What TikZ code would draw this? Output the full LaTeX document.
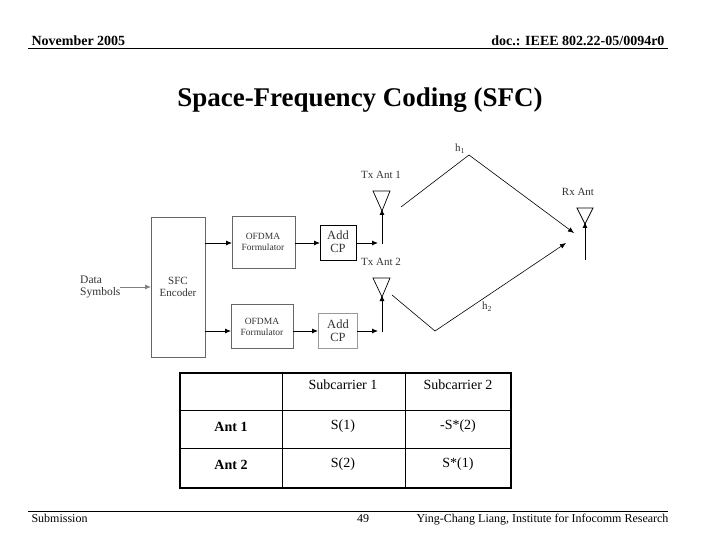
\documentclass[tikz,border=0pt]{standalone}
\usepackage{fontspec}
\setmainfont{Liberation Serif}
\usetikzlibrary{arrows.meta}
\begin{document}
\begin{tikzpicture}[x=1pt,y=-1pt,
    blk/.style={draw=black!60,line width=0.7pt,inner sep=0pt},
    lbl/.style={font=\fontsize{11}{12}\selectfont,text=black!80},
    sig/.style={-{Latex[length=6pt,width=5pt]},line width=0.8pt},
    ant/.style={draw,line width=0.7pt},
    cell/.style={font=\fontsize{14}{16}\selectfont}]
  \useasboundingbox (0,0) rectangle (720,540);
  % header and footer
  \node[anchor=base west,font=\bfseries\fontsize{14}{16}\selectfont] (month) at (28,46) {November 2005};
  \node[anchor=base east,font=\bfseries\fontsize{14}{16}\selectfont] (doc) at (668,46) {doc.: IEEE 802.22-05/0094r0};
  \draw[line width=1pt] (28,49) -- (668,49);
  \node[font=\bfseries\fontsize{27}{30}\selectfont] (title) at (360,100) {Space-Frequency Coding (SFC)};
  \draw[line width=1pt] (28,511) -- (668,511);
  \node[anchor=base west,font=\fontsize{12}{14}\selectfont] (sub) at (28,522) {Submission};
  \node[anchor=base,font=\fontsize{12}{14}\selectfont] (page) at (363,522) {49};
  \node[anchor=base east,font=\fontsize{12}{14}\selectfont] (auth) at (672,522) {Ying-Chang Liang, Institute for Infocomm Research};
  % blocks
  \draw[blk] (151,217) rectangle (205,357);
  \node[lbl,align=center] (enc) at (178,287) {SFC\\Encoder};
  \draw[blk] (232,216) rectangle (295,268);
  \node[lbl,align=center,font=\fontsize{9.5}{11}\selectfont] (ofa) at (263,242) {OFDMA\\Formulator};
  \draw[blk] (231,304) rectangle (293,348);
  \node[lbl,align=center,font=\fontsize{9.5}{11}\selectfont] (ofb) at (262,327) {OFDMA\\Formulator};
  \draw[blk,draw=black] (320,225) rectangle (356,260);
  \node[lbl,align=center,font=\fontsize{12.5}{13}\selectfont] (cpa) at (338,242) {Add\\CP};
  \draw[blk,draw=black!40] (318,313) rectangle (357,348);
  \node[lbl,align=center,font=\fontsize{12.5}{13}\selectfont] (cpb) at (338,331) {Add\\CP};
  \node[lbl,align=left,anchor=west,font=\fontsize{11.5}{12}\selectfont,inner sep=0pt] (data) at (80,287) {Data\\Symbols};
  % signal path
  \draw[sig,draw=black!50] (120,287) -- (151,287);
  \draw[sig] (205,243) -- (232,243);
  \draw[sig] (205,331) -- (231,331);
  \draw[sig] (295,243) -- (320,243);
  \draw[sig] (293,331) -- (318,331);
  \draw[sig] (356,243) -- (378,243);
  \draw[sig] (357,331) -- (378,331);
  \draw[sig] (382,244) -- (382,209);
  \draw[sig] (382,332) -- (382,295);
  \draw[sig] (585,260) -- (585,222);
  % antennas
  \draw[ant] (373,191) -- (390,191) -- (382,211) -- cycle;
  \draw[ant] (373,278) -- (390,278) -- (382,297) -- cycle;
  \draw[ant] (577,208) -- (593,208) -- (585,224) -- cycle;
  \node[lbl] (tx1) at (381,175) {Tx Ant 1};
  \node[lbl] (tx2) at (381,262) {Tx Ant 2};
  \node[lbl] (rx) at (578,192) {Rx Ant};
  % channels
  \draw[sig,line width=0.6pt] (401,207) -- (469,155) -- (574,233);
  \draw[sig,line width=0.6pt] (392,295) -- (435,331) -- (566,243);
  \node[lbl] (h1) at (460,149) {h\textsubscript{1}};
  \node[lbl] (h2) at (487,307) {h\textsubscript{2}};
  % table
  \draw[line width=1.6pt] (180,373) rectangle (511,488);
  \draw[line width=0.8pt] (282,373) -- (282,488) (405,373) -- (405,488)
    (180,410) -- (511,410) (180,448) -- (511,448);
  \node[cell] (c12) at (343,385) {Subcarrier 1};
  \node[cell] (c13) at (458,385) {Subcarrier 2};
  \node[cell,font=\bfseries\fontsize{14}{16}\selectfont] (r1) at (231,427) {Ant 1};
  \node[cell,font=\bfseries\fontsize{14}{16}\selectfont] (r2) at (231,465) {Ant 2};
  \node[cell] (c22) at (343,426) {S(1)};
  \node[cell] (c23) at (458,426) {-S*(2)};
  \node[cell] (c32) at (343,464) {S(2)};
  \node[cell] (c33) at (458,464) {S*(1)};
\end{tikzpicture}
\end{document}
